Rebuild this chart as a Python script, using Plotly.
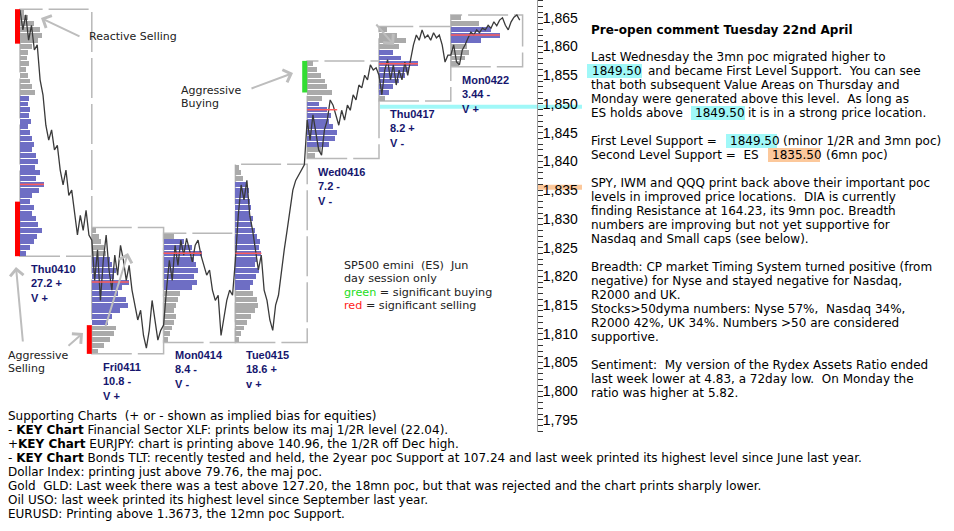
import plotly.graph_objects as go

# ---------------- data ----------------
SESSIONS = ["Thu0410", "Fri0411", "Mon0414", "Tue0415", "Wed0416", "Thu0417", "Mon0422"]
RANGE_NOTE = ["27.2 +", "10.8 -", "8.4 -", "18.6 +", "7.2 -", "8.2 +", "3.44 -"]
VOLUME_NOTE = ["V +", "V +", "V -", "v +", "V -", "V -", "V +"]

# ES price path (day session), one list per session
PRICE_THU0410 = [1866.4, 1862.9, 1865.5, 1861.1, 1863.7, 1859.4, 1860.3, 1854.2, 1851.6, 1846.3,
                 1843.7, 1845.5, 1842.0, 1842.8, 1838.5, 1835.9, 1838.5, 1834.1, 1835.0, 1831.5,
                 1827.2, 1830.6, 1828.0, 1831.5, 1827.2]
PRICE_FRI0411 = [1826.3, 1819.3, 1824.6, 1815.8, 1822.8, 1827.2, 1821.1, 1817.6, 1823.7, 1820.2,
                 1825.4, 1822.8, 1819.3, 1821.9, 1817.6, 1815.0, 1812.4, 1814.1, 1809.7, 1807.5,
                 1810.6, 1815.8, 1812.4, 1808.9, 1810.6]
PRICE_MON0414 = [1811.5, 1817.6, 1822.8, 1819.3, 1825.4, 1821.9, 1826.3, 1823.7, 1826.6, 1824.6,
                 1822.5, 1825.4, 1826.3, 1823.7, 1821.9, 1820.2, 1821.1, 1817.6, 1815.8, 1816.7,
                 1809.7, 1813.2, 1815.8, 1817.6, 1816.7]
PRICE_TUE0415 = [1822.8, 1830.6, 1835.9, 1833.3, 1836.7, 1830.6, 1828.0, 1824.6, 1821.1, 1823.7,
                 1817.6, 1815.8, 1812.4, 1810.6, 1815.0, 1816.7, 1821.1, 1824.6, 1828.0, 1831.5,
                 1835.0, 1836.7, 1837.6, 1838.5, 1839.4]
PRICE_WED0416 = [1847.2, 1843.7, 1848.1, 1844.6, 1842.0, 1841.1, 1845.5, 1847.2, 1850.7, 1849.8,
                 1848.1, 1846.3, 1848.9, 1847.2, 1849.8, 1848.9, 1851.6, 1850.7, 1853.3, 1852.8,
                 1855.0, 1854.2, 1856.8, 1855.9, 1856.3]
PRICE_THU0417 = [1855.0, 1851.6, 1855.9, 1857.7, 1854.2, 1856.8, 1853.3, 1855.9, 1854.2, 1857.3,
                 1855.0, 1857.7, 1860.3, 1862.0, 1861.1, 1862.9, 1861.5, 1862.0, 1861.1, 1862.4,
                 1861.5, 1862.0, 1860.3, 1857.3, 1858.5]
PRICE_MON0422 = [1858.5, 1860.3, 1857.3, 1856.8, 1859.4, 1860.3, 1861.5, 1862.5, 1862.0, 1862.9,
                 1862.4, 1863.2, 1862.9, 1863.7, 1863.2, 1864.3, 1863.6, 1864.6, 1865.0, 1863.7,
                 1862.9, 1864.3, 1865.1, 1865.5, 1864.6]

# Market profile: top price of each profile and row lengths (1 pt rows, top -> bottom)
PROFILE_TOP = [1866, 1828, 1827, 1839, 1857, 1863, 1865]
PROFILE_THU0410 = [4, 8, 14, 20, 22, 18, 12, 8, 7, 9, 6, 8, 10, 12, 15, 9, 8, 10, 9, 11, 8, 10,
                   12, 14, 12, 16, 18, 15, 20, 16, 24, 19, 12, 10, 14, 12, 16, 18, 22, 17, 14, 10, 6]
PROFILE_FRI0411 = [4, 7, 9, 12, 14, 18, 20, 24, 22, 37, 30, 26, 34, 36, 28, 20, 16, 24, 22, 18, 12, 6]
PROFILE_MON0414 = [10, 20, 28, 38, 30, 32, 34, 30, 33, 28, 16, 14, 12, 10, 12, 10, 8, 6, 4]
PROFILE_TUE0415 = [4, 6, 8, 12, 14, 13, 15, 16, 14, 18, 17, 20, 22, 25, 24, 26, 22, 20, 24, 21,
                   18, 15, 18, 22, 23, 20, 16, 12, 9, 6, 4]
PROFILE_WED0416 = [6, 10, 14, 18, 20, 25, 15, 12, 20, 24, 22, 26, 30, 28, 22, 14, 8]
PROFILE_THU0417 = [8, 18, 27, 20, 14, 22, 39, 30, 26, 20, 14, 10, 6]
PROFILE_MON0422 = [10, 28, 40, 49, 30, 16, 18, 14, 8]
VALUE_AREA_HIGH = [1851, 1823, 1826, 1836, 1850, 1859, 1863]
VALUE_AREA_LOW = [1824, 1812, 1818, 1818, 1843, 1852, 1861]
POC = [1836, 1819, 1824, 1824, 1849, 1857, 1862]

# significant buying / selling flags: session index, low, high, kind
SIGNAL_SESSION = [0, 0, 1, 4]
SIGNAL_LOW = [1860.5, 1823.5, 1806.5, 1852.0]
SIGNAL_HIGH = [1866.5, 1833.0, 1811.5, 1857.5]
SIGNAL_KIND = ["sell", "sell", "sell", "buy"]

FIRST_SUPPORT = 1849.50
SECOND_SUPPORT = 1835.50

PRICES = [PRICE_THU0410, PRICE_FRI0411, PRICE_MON0414, PRICE_TUE0415,
          PRICE_WED0416, PRICE_THU0417, PRICE_MON0422]
PROFILES = [PROFILE_THU0410, PROFILE_FRI0411, PROFILE_MON0414, PROFILE_TUE0415,
            PROFILE_WED0416, PROFILE_THU0417, PROFILE_MON0422]

COMMENT_TITLE = "Pre-open comment Tuesday 22nd April"
SUPPORT_LINES = [
    "Supporting Charts  (+ or - shown as implied bias for equities)",
    "- <b>KEY Chart</b> Financial Sector XLF: prints below its maj 1/2R level (22.04).",
    "+<b>KEY Chart</b> EURJPY: chart is printing above 140.96, the 1/2R off Dec high.",
    "- <b>KEY Chart</b> Bonds TLT: recently tested and held, the 2year poc Support at 107.24 and last week printed its highest level since June last year.",
    "Dollar Index: printing just above 79.76, the maj poc.",
    "Gold  GLD: Last week there was a test above 127.20, the 18mn poc, but that was rejected and the chart prints sharply lower.",
    "Oil USO: last week printed its highest level since September last year.",
    "EURUSD: Printing above 1.3673, the 12mn poc Support.",
]

# ---------------- layout constants ----------------
W, H = 954, 531
AXIS_X_PX = 537
PLOT_H_PX = 432
Y_RANGE = [1792.9, 1868.1]
SESSION_START = 20
SESSION_WIDTH = 71.8

GRAY = "#aaaaaa"
BLUE = "rgb(110,110,196)"
NAVY = "#16166e"
TXT_FONT = "DejaVu Sans"


def xp(px):
    return px / W


def yp(py):
    return (PLOT_H_PX - py) / PLOT_H_PX


fig = go.Figure()
shapes = []
annotations = []

# profiles + boxes
for i, name in enumerate(SESSIONS):
    start = SESSION_START + i * SESSION_WIDTH
    lengths = PROFILES[i]
    levels = [PROFILE_TOP[i] - k for k in range(len(lengths))]
    colors = [BLUE if VALUE_AREA_LOW[i] <= p <= VALUE_AREA_HIGH[i] else GRAY for p in levels]
    fig.add_trace(go.Bar(
        y=levels, x=lengths, base=[start] * len(lengths), orientation="h",
        width=0.86, marker=dict(color=colors, line=dict(width=0)),
        hoverinfo="skip", showlegend=False))
    top = max(levels) + 0.5
    bottom = min(levels) - 0.5
    shapes.append(dict(type="rect", xref="x", yref="y", x0=start, x1=start + SESSION_WIDTH,
                       y0=bottom, y1=top, line=dict(color="#b8b8b8", width=1.5, dash="40px,6px"),
                       fillcolor="rgba(0,0,0,0)", layer="below"))
    shapes.append(dict(type="line", xref="x", yref="y", x0=start, x1=start + max(lengths),
                       y0=POC[i], y1=POC[i], line=dict(color="#ff5c5c", width=1.5), layer="above"))
    annotations.append(dict(
        xref="x", yref="y", x=start + 9, y=bottom, xanchor="left", yanchor="top", yshift=-5,
        text="<b>%s<br>%s<br>%s</b>" % (name, RANGE_NOTE[i], VOLUME_NOTE[i]),
        align="left", showarrow=False,
        font=dict(family="Liberation Sans", size=11, color=NAVY)))

# price path
px_all, py_all = [], []
for i, series in enumerate(PRICES):
    start = SESSION_START + i * SESSION_WIDTH
    n = len(series)
    for k, v in enumerate(series):
        px_all.append(start + k * SESSION_WIDTH / n)
        py_all.append(v)
fig.add_trace(go.Scatter(x=px_all, y=py_all, mode="lines",
                         line=dict(color="#3a3a3a", width=1.3),
                         hoverinfo="skip", showlegend=False))

# signal flags
for s, lo, hi, kind in zip(SIGNAL_SESSION, SIGNAL_LOW, SIGNAL_HIGH, SIGNAL_KIND):
    start = SESSION_START + s * SESSION_WIDTH
    shapes.append(dict(type="rect", xref="x", yref="y", x0=start - 5, x1=start,
                       y0=lo, y1=hi, line=dict(width=0),
                       fillcolor="#ff0000" if kind == "sell" else "#33dd33", layer="above"))

# support level marks
shapes.append(dict(type="line", xref="paper", yref="y", x0=xp(380), x1=xp(582),
                   y0=FIRST_SUPPORT, y1=FIRST_SUPPORT,
                   line=dict(color="#a0f8f8", width=4), layer="below"))
shapes.append(dict(type="line", xref="paper", yref="y", x0=xp(AXIS_X_PX), x1=xp(582),
                   y0=SECOND_SUPPORT, y1=SECOND_SUPPORT,
                   line=dict(color="#fcc89b", width=5), layer="below"))

# arrows (tail -> head in px)
ARROWS = [((81, 37), (41, 18)), ((250, 89), (293, 73)), ((23, 343), (16, 267)),
          ((67, 347), (83, 333)), ((105, 328), (128, 253)), ((375, 23), (394, 45))]
for (tx, ty), (hx, hy) in ARROWS:
    annotations.append(dict(xref="paper", yref="paper", x=xp(hx), y=yp(hy), ax=tx - hx, ay=ty - hy,
                            text="", showarrow=True, arrowhead=4, arrowsize=1.3, arrowwidth=2,
                            arrowcolor="#bdbdbd", standoff=0))


def note(text, x, y, size=11.0, color="#222222", family=TXT_FONT):
    annotations.append(dict(xref="paper", yref="paper", x=xp(x), y=yp(y), xanchor="left",
                            yanchor="middle", text=text, showarrow=False, borderpad=0,
                            font=dict(family=family, size=size, color=color)))


note("Reactive Selling", 88, 36)
note("Aggressive", 180, 90)
note("Buying", 180, 103)
note("Aggressive", 7, 355)
note("Selling", 7, 368)
note("SP500 emini  (ES)  Jun", 343, 265, 11.2)
note("day session only", 343, 279, 11.2)
note("<span style='color:#22dd22'>green</span> = significant buying", 343, 292, 11.2)
note("<span style='color:#ff2020'>red</span> = significant selling", 343, 305, 11.2)

# right comment panel
RS = 12.0
note("<b>%s</b>" % COMMENT_TITLE, 590, 30, RS, "#000000")
note("Last Wednesday the 3mn poc migrated higher to", 590, 57, RS, "#000000")
hl = [(587, 642, 71, "#a0f8f8"), (691, 745, 113, "#a0f8f8"),
      (726, 777, 141, "#a0f8f8"), (768, 820, 155, "#fcc89b")]
for x0, x1, yc, col in hl:
    shapes.append(dict(type="rect", xref="paper", yref="paper", x0=xp(x0), x1=xp(x1),
                       y0=yp(yc + 7), y1=yp(yc - 7), line=dict(width=0), fillcolor=col, layer="below"))
note("%.2f" % FIRST_SUPPORT, 591, 71, RS, "#000000")
note("and became First Level Support.  You can see", 647, 71, RS, "#000000")
note("that both subsequent Value Areas on Thursday and", 590, 85, RS, "#000000")
note("Monday were generated above this level.  As long as", 590, 99, RS, "#000000")
note("ES holds above", 590, 113, RS, "#000000")
note("%.2f" % FIRST_SUPPORT, 694, 113, RS, "#000000")
note("it is in a strong price location.", 747, 113, RS, "#000000")
note("First Level Support =", 590, 141, RS, "#000000")
note("%.2f" % FIRST_SUPPORT, 729, 141, RS, "#000000")
note("(minor 1/2R and 3mn poc)", 782, 141, RS, "#000000")
note("Second Level Support =  ES", 590, 155, RS, "#000000")
note("%.2f" % SECOND_SUPPORT, 771, 155, RS, "#000000")
note("(6mn poc)", 825, 155, RS, "#000000")
PANEL = [
    (183, "SPY, IWM and QQQ print back above their important poc"),
    (197, "levels in improved price locations.  DIA is currently"),
    (211, "finding Resistance at 164.23, its 9mn poc. Breadth"),
    (225, "numbers are improving but not yet supportive for"),
    (239, "Nasdaq and Small caps (see below)."),
    (267, "Breadth: CP market Timing System turned positive (from"),
    (281, "negative) for Nyse and stayed negative for Nasdaq,"),
    (295, "R2000 and UK."),
    (309, "Stocks&gt;50dyma numbers: Nyse 57%,  Nasdaq 34%,"),
    (323, "R2000 42%, UK 34%. Numbers &gt;50 are considered"),
    (337, "supportive."),
    (365, "Sentiment:  My version of the Rydex Assets Ratio ended"),
    (379, "last week lower at 4.83, a 72day low.  On Monday the"),
    (393, "ratio was higher at 5.82."),
]
for y, t in PANEL:
    note(t, 590, y, RS, "#000000")

for k, t in enumerate(SUPPORT_LINES):
    note(t, 7, 416 + 14 * k, RS, "#000000")

fig.update_layout(
    width=W, height=H, template="none",
    margin=dict(l=0, r=0, t=0, b=H - PLOT_H_PX, pad=0),
    paper_bgcolor="white", plot_bgcolor="white",
    barmode="overlay", bargap=0, showlegend=False,
    xaxis=dict(range=[0, AXIS_X_PX], domain=[0, AXIS_X_PX / W], visible=False, fixedrange=True),
    yaxis=dict(range=Y_RANGE, side="right", anchor="x", showline=True, linecolor="#a0a0a0",
               linewidth=1, ticks="outside", ticklen=5, tickwidth=1, tickcolor="#333333",
               tick0=1795, dtick=5, tickformat=",d", showgrid=False, zeroline=False,
               automargin=False, ticklabelstandoff=-3,
               tickfont=dict(family="Liberation Sans", size=14, color="#000000"),
               minor=dict(dtick=1, ticks="outside", ticklen=5, tickcolor="#333333", showgrid=False)),
    shapes=shapes, annotations=annotations,
)

fig.write_html("out.html")
